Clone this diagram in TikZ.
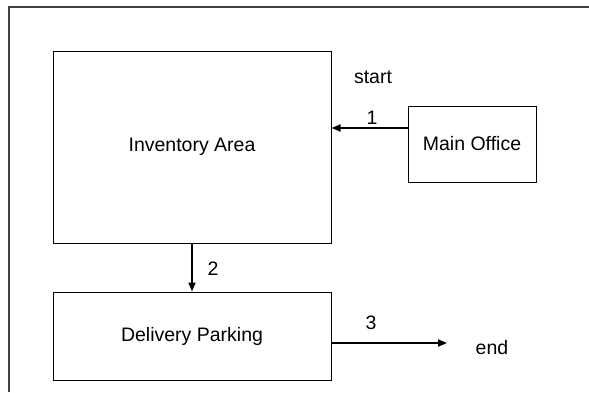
\documentclass[tikz,border=0pt]{standalone}
\usepackage{fontspec}
\setmainfont{Liberation Sans}
\usetikzlibrary{arrows.meta}
\tikzset{
  area/.style={draw=black, line width=1pt, inner sep=0pt, font=\fontsize{19.5}{22}\selectfont},
  caption/.style={inner sep=0pt, font=\fontsize{19.5}{22}\selectfont},
  flow/.style={draw=black, line width=1.8pt, -{Triangle[length=9pt,width=7pt]}},
  frame/.style={draw=black!75, line width=1.4pt}
}
\begin{document}
\begin{tikzpicture}[x=1pt,y=-1pt]
  \useasboundingbox (0,0) rectangle (589,392);
  % page frame (top and left edges only)
  \draw[frame] (9,392) -- (9,7) -- (589,7);

  % areas
  \node[area, minimum width=278pt, minimum height=192pt] (inv) at (192,147) {Inventory Area};
  \node[area, minimum width=128pt, minimum height=76pt] (office) at (472,144) {Main Office};
  \node[area, minimum width=278pt, minimum height=88pt] (park) at (192,336) {Delivery Parking};

  % free texts
  \node[caption] (start) at (373,77) {start};
  \node[caption] (endtxt) at (492,348) {end};

  % connectors
  \coordinate (o1) at ([yshift=16pt]office.west);
  \draw[flow] (o1) -- (o1 -| inv.east);
  \draw[flow] (inv.south) -- (park.north);
  \coordinate (p3) at ([yshift=-7pt]park.east);
  \coordinate (tip3) at (447,343);
  \draw[flow] (p3) -- (tip3);

  % step numbers
  \node[caption] (n1) at (372,118) {1};
  \node[caption] (n2) at (213,269) {2};
  \node[caption] (n3) at (371,323) {3};
\end{tikzpicture}
\end{document}
